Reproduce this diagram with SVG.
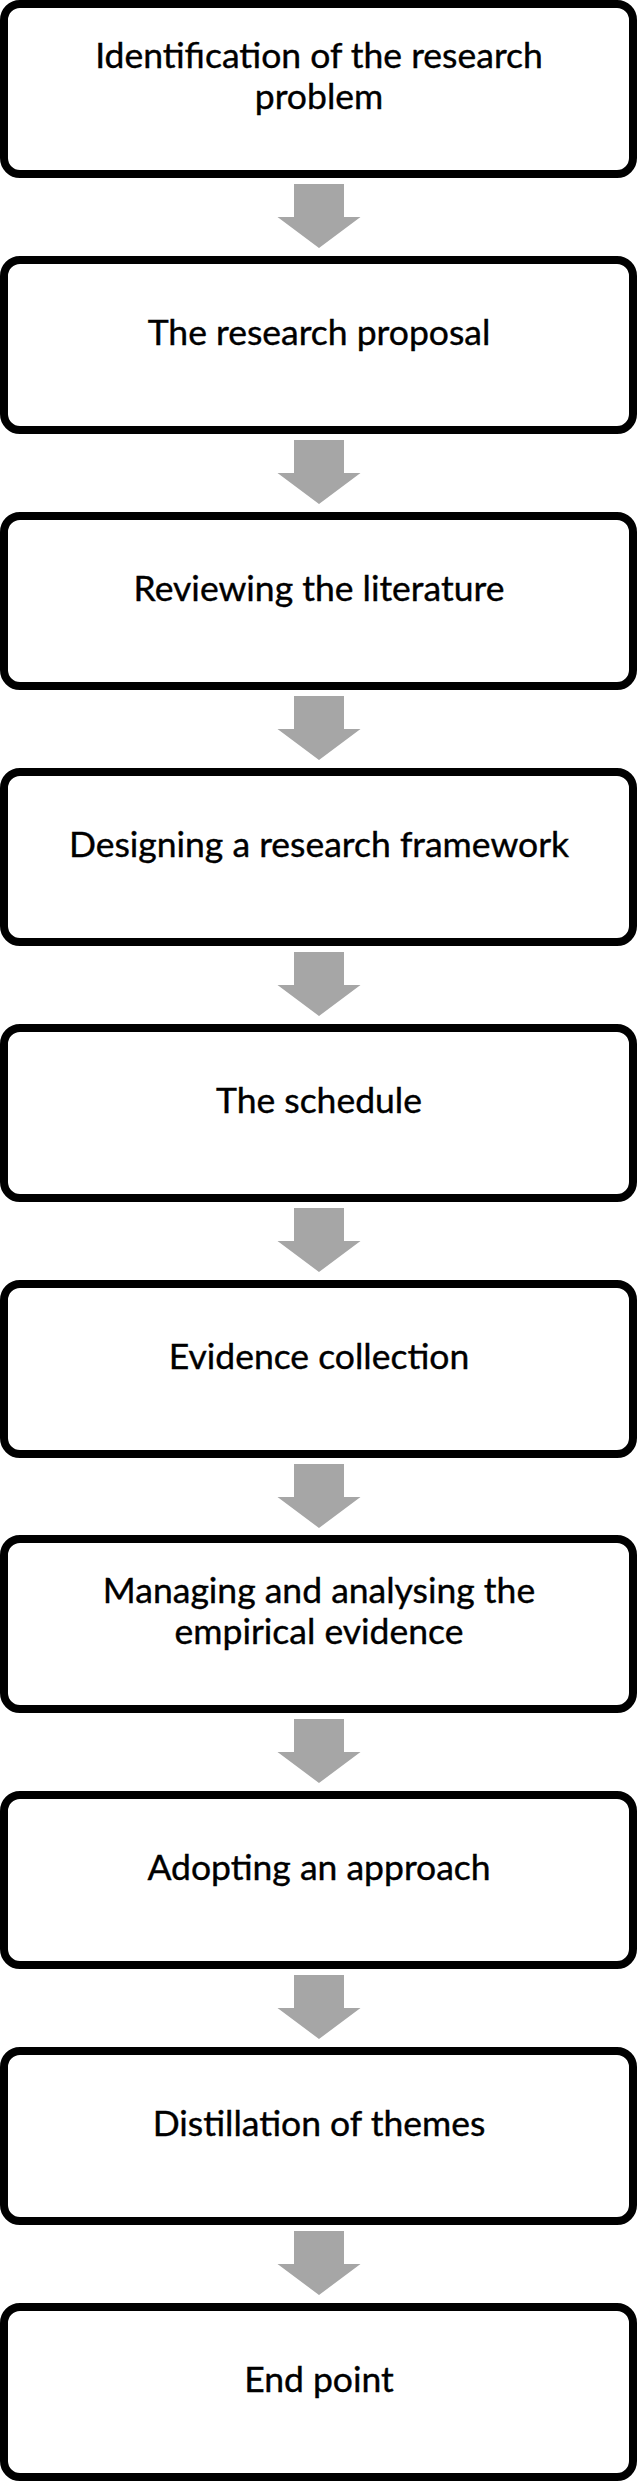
<svg xmlns="http://www.w3.org/2000/svg" width="638" height="2481" viewBox="0 0 638 2481">
<style>
.box{fill:#fff;stroke:#000;stroke-width:8}
.arr{fill:#a6a6a6}
text{font-family:Lato,"Open Sans","Liberation Sans",sans-serif;font-size:35.5px;fill:#000;stroke:#000;stroke-width:0.4;text-anchor:middle}
</style>
<rect width="638" height="2481" fill="#fff"/>
<g id="connectors">
<polygon class="arr" points="294,184 344,184 344,217 360.5,217 319,248 277.5,217 294,217"/>
<polygon class="arr" transform="translate(0,256)" points="294,184 344,184 344,217 360.5,217 319,248 277.5,217 294,217"/>
<polygon class="arr" transform="translate(0,512)" points="294,184 344,184 344,217 360.5,217 319,248 277.5,217 294,217"/>
<polygon class="arr" transform="translate(0,768)" points="294,184 344,184 344,217 360.5,217 319,248 277.5,217 294,217"/>
<polygon class="arr" transform="translate(0,1024)" points="294,184 344,184 344,217 360.5,217 319,248 277.5,217 294,217"/>
<polygon class="arr" transform="translate(0,1280)" points="294,184 344,184 344,217 360.5,217 319,248 277.5,217 294,217"/>
<polygon class="arr" transform="translate(0,1535)" points="294,184 344,184 344,217 360.5,217 319,248 277.5,217 294,217"/>
<polygon class="arr" transform="translate(0,1791)" points="294,184 344,184 344,217 360.5,217 319,248 277.5,217 294,217"/>
<polygon class="arr" transform="translate(0,2047)" points="294,184 344,184 344,217 360.5,217 319,248 277.5,217 294,217"/>
</g>
<g id="n1"><rect class="box" x="4" y="4" width="629" height="170" rx="16"/><text x="319" y="68">Identification of the research</text><text x="319" y="109">problem</text></g>
<g id="n2"><rect class="box" x="4" y="260" width="629" height="170" rx="16"/><text x="319" y="345">The research proposal</text></g>
<g id="n3"><rect class="box" x="4" y="516" width="629" height="170" rx="16"/><text x="319" y="601">Reviewing the literature</text></g>
<g id="n4"><rect class="box" x="4" y="772" width="629" height="170" rx="16"/><text x="319" y="857">Designing a research framework</text></g>
<g id="n5"><rect class="box" x="4" y="1028" width="629" height="170" rx="16"/><text x="319" y="1113">The schedule</text></g>
<g id="n6"><rect class="box" x="4" y="1284" width="629" height="170" rx="16"/><text x="319" y="1369">Evidence collection</text></g>
<g id="n7"><rect class="box" x="4" y="1539" width="629" height="170" rx="16"/><text x="319" y="1603">Managing and analysing the</text><text x="319" y="1644">empirical evidence</text></g>
<g id="n8"><rect class="box" x="4" y="1795" width="629" height="170" rx="16"/><text x="319" y="1880">Adopting an approach</text></g>
<g id="n9"><rect class="box" x="4" y="2051" width="629" height="170" rx="16"/><text x="319" y="2136">Distillation of themes</text></g>
<g id="n10"><rect class="box" x="4" y="2307" width="629" height="170" rx="16"/><text x="319" y="2392">End point</text></g>
</svg>
